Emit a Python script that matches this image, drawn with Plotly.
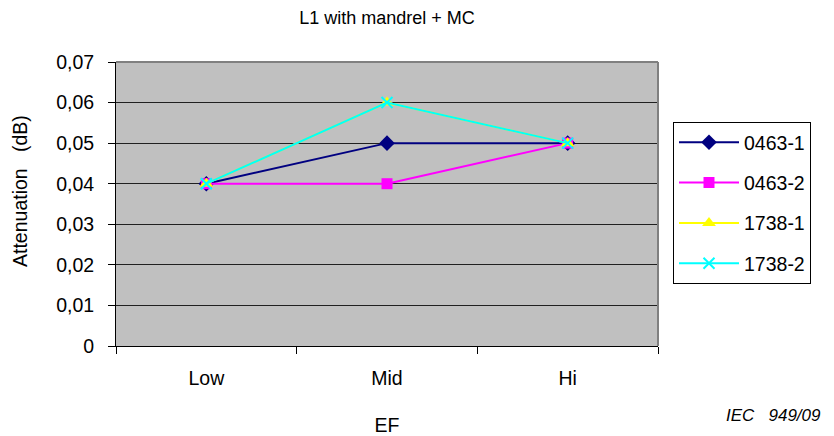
import plotly.graph_objects as go

categories = ["Low", "Mid", "Hi"]
s_0463_1 = [0.04, 0.05, 0.05]
s_0463_2 = [0.04, 0.04, 0.05]
s_1738_1 = [0.04, 0.06, 0.05]
s_1738_2 = [0.04, 0.06, 0.05]
y_ticks = [0, 0.01, 0.02, 0.03, 0.04, 0.05, 0.06, 0.07]

FONT = "Liberation Sans, Arial, sans-serif"
FS = 19.5

fig = go.Figure()
series = [
    ("0463-1", s_0463_1, "#000080", "diamond", 12),
    ("0463-2", s_0463_2, "#FF00FF", "square", 11),
    ("1738-1", s_1738_1, "#FFFF00", "triangle-up", 12),
    ("1738-2", s_1738_2, "#00FFFF", "x-thin", 11),
]
for name, vals, col, sym, sz in series:
    marker = dict(color=col, symbol=sym, size=sz)
    if sym == "x-thin":
        marker["line"] = dict(color=col, width=2)
    fig.add_trace(go.Scatter(x=categories, y=vals, name=name, mode="lines+markers",
                             legendgroup=name,
                             line=dict(color=col, width=2), marker=marker))

# page is offset by the 8px body margin
PL, PR, PT, PB = 116, 658, 62, 346
def px(x):
    return (x - PL) / (PR - PL)
def py(y):
    return (PB - y) / (PB - PT)

fig.update_layout(
    width=834, height=436,
    margin=dict(l=108, r=184, t=54, b=98),
    paper_bgcolor="white", plot_bgcolor="#C0C0C0",
    separators=",.",
    font=dict(family=FONT, size=FS, color="black"),
    title=dict(text="L1 with mandrel + MC", x=(387 - 8) / 834, xanchor="center",
               y=1 - 10 / 436, yanchor="middle", font=dict(size=18)),
    showlegend=True,
    legend=dict(x=px(673), xanchor="left", y=py(203), yanchor="middle",
                bgcolor="white", bordercolor="black", borderwidth=1,
                font=dict(size=FS), tracegroupgap=12, itemwidth=60),
    xaxis=dict(type="category", range=[-0.5, 2.5], tickson="boundaries", ticks="outside",
               ticklen=7, tickcolor="black", showline=True, linecolor="black", linewidth=1,
               showgrid=False, tickfont=dict(size=FS), ticklabelstandoff=15,
               title=dict(text="EF", font=dict(size=FS), standoff=29)),
    yaxis=dict(range=[0, 0.07], tickvals=y_ticks, ticks="outside", ticklen=7,
               tickcolor="black", showline=True, linecolor="black", linewidth=1,
               showgrid=True, gridcolor="#202020", gridwidth=1, zeroline=False,
               tickfont=dict(size=FS), ticklabelstandoff=10),
    shapes=[
        dict(type="line", xref="paper", yref="paper", x0=0, x1=1, y0=1, y1=1,
             line=dict(color="#808080", width=2), layer="above"),
        dict(type="line", xref="paper", yref="paper", x0=1, x1=1, y0=0, y1=1,
             line=dict(color="#808080", width=2), layer="above"),
    ],
    annotations=[
        dict(text="Attenuation&nbsp;&nbsp;&nbsp;(dB)", xref="paper", yref="paper",
             x=px(20), y=py(191), xanchor="center", yanchor="middle", textangle=-90,
             showarrow=False, font=dict(size=FS)),
        dict(text="<i>IEC&nbsp;&nbsp;&nbsp;949/09</i>", xref="paper", yref="paper",
             x=px(823), xanchor="right", y=py(415), yanchor="middle", showarrow=False,
             font=dict(size=17)),
    ],
)

fig.write_html("out.html")
